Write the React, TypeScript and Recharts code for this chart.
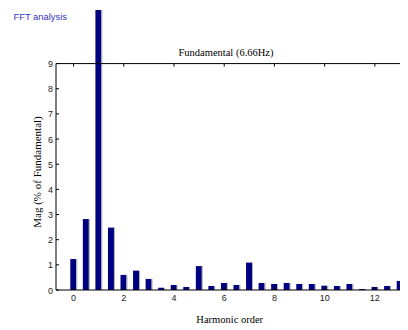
import React from 'react';
import { BarChart, Bar, XAxis, YAxis, ReferenceLine } from 'recharts';

const harmonics = [0, 0.5, 1, 1.5, 2, 2.5, 3, 3.5, 4, 4.5, 5, 5.5, 6, 6.5, 7, 7.5, 8, 8.5, 9, 9.5, 10, 10.5, 11, 11.5, 12, 12.5, 13];
const magnitudes = [1.23, 2.82, 100, 2.48, 0.6, 0.77, 0.44, 0.09, 0.2, 0.12, 0.95, 0.16, 0.28, 0.2, 1.09, 0.28, 0.24, 0.28, 0.24, 0.24, 0.17, 0.16, 0.24, 0.04, 0.12, 0.16, 0.36];
const xTicks = [0, 2, 4, 6, 8, 10, 12];
const yTicks = [0, 1, 2, 3, 4, 5, 6, 7, 8, 9];

const data = harmonics.map((h, i) => ({ h, mag: magnitudes[i] }));

const TICK_FONT = '"Liberation Sans", Arial, sans-serif';
const SERIF = '"Liberation Serif", "Times New Roman", serif';

const BarShape = (p: any) => (
  <g>
    <rect x={p.x} y={p.y} width={p.width} height={p.height} fill="#000080" />
    <rect x={p.x + p.width} y={p.y} width={1} height={p.height} fill="#b4b4b4" />
  </g>
);

const XTick = ({ x, y, payload }: any) => (
  <g>
    <line x1={x} y1={y} x2={x} y2={y - 3} stroke="#000" />
    <text x={x} y={y + 11} textAnchor="middle" fontSize={9} fontFamily={TICK_FONT} fill="#222">
      {payload.value}
    </text>
  </g>
);

const YTick = ({ x, y, payload }: any) => (
  <g>
    <line x1={x} y1={y} x2={x + 3} y2={y} stroke="#000" />
    <text x={x - 3} y={y + 3.5} textAnchor="end" fontSize={9} fontFamily={TICK_FONT} fill="#222">
      {payload.value}
    </text>
  </g>
);

export default function App() {
  return (
    <div style={{ position: 'relative', width: 400, height: 322, overflow: 'hidden' }}>
      <BarChart width={400} height={322} data={data} margin={{ top: 2, right: 0, bottom: 0, left: 0 }}>
        <XAxis
          dataKey="h"
          type="number"
          domain={[-0.7, 13.32]}
          allowDataOverflow
          ticks={xTicks}
          height={40}
          tickSize={0}
          tickMargin={0}
          tickLine={false}
          axisLine={{ stroke: '#000' }}
          tick={<XTick />}
        />
        <YAxis
          type="number"
          domain={[0, 11.13]}
          allowDataOverflow
          ticks={yTicks}
          width={48}
          tickSize={0}
          tickMargin={0}
          tickLine={false}
          axisLine={false}
          tick={<YTick />}
        />
        <ReferenceLine y={9} stroke="#000" />
        <ReferenceLine segment={[{ x: -0.7, y: 0 }, { x: -0.7, y: 9 }]} stroke="#000" />
        {xTicks.map((t) => (
          <ReferenceLine key={t} segment={[{ x: t, y: 9 }, { x: t, y: 8.88 }]} stroke="#000" />
        ))}
        <Bar dataKey="mag" barSize={6} shape={BarShape} isAnimationActive={false} />
      </BarChart>
      <svg width={400} height={322} style={{ position: 'absolute', left: 0, top: 0, pointerEvents: 'none' }}>
        <text x={5.5} y={12} fontSize={9.4} fontFamily={TICK_FONT} fill="#3535c8">FFT analysis</text>
        <text x={218} y={47.5} textAnchor="middle" fontSize={10.5} fontFamily={SERIF} fill="#000">
          Fundamental (6.66Hz)
        </text>
        <text x={221.7} y={315} textAnchor="middle" fontSize={10.5} fontFamily={SERIF} fill="#000">
          Harmonic order
        </text>
        <text
          x={32.5}
          y={164}
          textAnchor="middle"
          fontSize={11}
          fontFamily={SERIF}
          fill="#000"
          transform="rotate(-90 32.5 164)"
        >
          Mag (% of Fundamental)
        </text>
      </svg>
    </div>
  );
}
